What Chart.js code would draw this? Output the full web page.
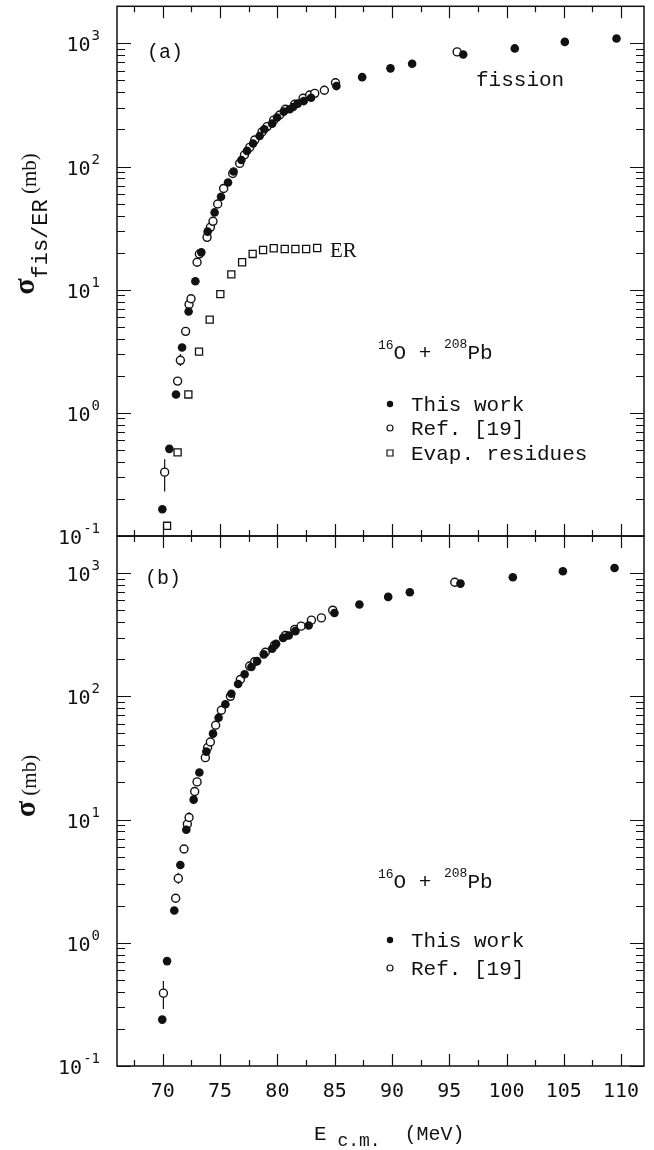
<!DOCTYPE html>
<html>
<head>
<meta charset="utf-8">
<script src="https://cdn.jsdelivr.net/npm/chart.js@4.4.0/dist/chart.umd.min.js"></script>
<style>
  html, body { margin: 0; padding: 0; background: #fff; }
  #wrap { position: relative; width: 654px; height: 1150px; }
  canvas { position: absolute; left: 0; top: 0; }
</style>
</head>
<body>
<div id="wrap">
  <canvas id="chartA" width="654" height="1150"></canvas>
  <canvas id="chartB" width="654" height="1150"></canvas>
</div>
<script>
// axis ticks
const xTicks = [70, 75, 80, 85, 90, 95, 100, 105, 110];
const yDecades = [-1, 0, 1, 2, 3];

// (a) fission, this work
const fisWorkE = [69.96, 70.57, 71.15, 71.68, 72.25, 72.84, 73.36, 73.91, 74.52, 75.08, 75.69, 76.18, 76.86, 77.35, 77.88, 78.45, 78.86, 79.54, 79.97, 80.55, 81.07, 81.37, 81.77, 82.30, 82.94, 85.15, 87.40, 89.87, 91.76, 96.22, 100.72, 105.09, 109.60];
const fisWorkS = [0.165, 0.51, 1.41, 3.39, 6.66, 11.7, 20.1, 29.6, 42.4, 56.9, 74.2, 91.1, 113, 134, 154, 177, 201, 223, 250, 279, 292, 304, 324, 340, 362, 450, 532, 627, 683, 813, 910, 1028, 1096];

// (a) fission, Ref. [19]
const fisRefE = [70.16, 71.29, 71.53, 71.99, 72.29, 72.46, 72.99, 73.19, 73.86, 74.15, 74.38, 74.79, 75.31, 76.10, 76.71, 77.12, 77.58, 78.02, 78.66, 79.10, 79.68, 80.20, 80.70, 81.51, 82.24, 82.82, 83.26, 84.10, 85.07, 95.69];
const fisRefS = [0.33, 1.81, 2.67, 4.59, 7.59, 8.44, 16.7, 19.5, 26.6, 32.1, 35.9, 49.6, 66.4, 87.7, 106, 124, 143, 164, 191, 211, 238, 262, 292, 320, 358, 381, 393, 416, 479, 853];
const fisRefLo = [0.23, null, 2.4, null, null, null, null, null, null, null, null, null, null, null, null, null, null, null, null, null, null, null, null, null, null, null, null, null, null, null];
const fisRefHi = [0.42, null, 3.0, null, null, null, null, null, null, null, null, null, null, null, null, null, null, null, null, null, null, null, null, null, null, null, null, null, null, null];

// (a) evaporation residues
const erE = [70.37, 71.29, 72.23, 73.16, 74.09, 75.02, 75.98, 76.92, 77.84, 78.75, 79.68, 80.64, 81.57, 82.51, 83.47];
const erS = [0.121, 0.478, 1.41, 3.14, 5.71, 9.2, 13.3, 16.7, 19.5, 21.0, 21.7, 21.4, 21.4, 21.4, 21.8];

// (b) total, this work
const totWorkE = [69.95, 70.37, 71.00, 71.53, 72.05, 72.69, 73.19, 73.80, 74.38, 74.87, 75.46, 75.98, 76.57, 77.14, 77.73, 78.23, 78.81, 79.54, 79.89, 80.50, 80.99, 81.57, 82.73, 84.98, 87.16, 89.67, 91.56, 95.98, 100.55, 104.92, 109.43];
const totWorkS = [0.238, 0.71, 1.83, 4.28, 8.27, 14.5, 24.1, 35.6, 49.8, 67.1, 86.2, 105, 126, 151, 173, 193, 219, 243, 267, 298, 312, 338, 376, 475, 556, 641, 699, 822, 925, 1035, 1100];

// (b) total, Ref. [19]
const totRefE = [70.05, 71.12, 71.35, 71.85, 72.14, 72.29, 72.78, 72.99, 73.71, 73.91, 74.15, 74.61, 75.11, 75.90, 76.77, 77.58, 78.02, 78.95, 79.75, 80.70, 81.51, 82.07, 82.97, 83.84, 84.83, 95.48];
const totRefS = [0.39, 2.30, 3.33, 5.77, 9.19, 10.4, 16.9, 20.2, 31.8, 38.4, 42.6, 58.2, 77.1, 100, 137, 176, 191, 228, 260, 312, 349, 371, 415, 433, 500, 842];
const totRefLo = [0.29, null, 3.0, null, null, 9.5, null, null, null, null, null, null, null, null, null, null, null, null, null, null, null, null, null, null, null, null];
const totRefHi = [0.49, null, 3.7, null, null, 11.5, null, null, null, null, null, null, null, null, null, null, null, null, null, null, null, null, null, null, null, null];

const MONO = '"Liberation Mono", monospace';
const NUM = '"DejaVu Sans Mono", monospace';
const SERIF = '"Liberation Serif", serif';
const INK = '#111';

function pts(xs, ys) {
  return xs.map((x, i) => ({ x: x, y: ys[i] }));
}

function filledSet(xs, ys) {
  return { data: pts(xs, ys), pointStyle: 'circle', pointRadius: 4.3, backgroundColor: INK, borderColor: INK, borderWidth: 0 };
}
function openSet(xs, ys, lo, hi) {
  return { data: pts(xs, ys), lo: lo, hi: hi, pointStyle: 'circle', pointRadius: 4, backgroundColor: '#fff', borderColor: INK, borderWidth: 1.4 };
}
function squareSet(xs, ys) {
  return { data: pts(xs, ys), pointStyle: 'rect', pointRadius: 5, backgroundColor: '#fff', borderColor: INK, borderWidth: 1.3 };
}

// superscript power label, right aligned
function powLabel(ctx, exp, xr, y) {
  ctx.textAlign = 'left';
  ctx.textBaseline = 'alphabetic';
  ctx.font = '14px ' + NUM;
  const sup = String(exp);
  const ws = ctx.measureText(sup).width;
  ctx.fillText(sup, xr - ws, y - 3);
  ctx.font = '20px ' + NUM;
  const wb = ctx.measureText('10').width;
  ctx.fillText('10', xr - ws - wb - 1, y + 8);
}

// text made of runs, each with own font and vertical shift
function runs(ctx, x, y, parts) {
  ctx.textAlign = 'left';
  ctx.textBaseline = 'alphabetic';
  parts.forEach(p => {
    ctx.font = p.f;
    ctx.fillText(p.t, x + (p.dx || 0), y + (p.dy || 0));
    x += ctx.measureText(p.t).width + (p.dx || 0);
  });
}

function rotTitle(ctx, cx, cy, parts) {
  ctx.save();
  ctx.translate(cx, cy);
  ctx.rotate(-Math.PI / 2);
  let w = 0;
  parts.forEach(p => { ctx.font = p.f; p.w = ctx.measureText(p.t).width; w += p.w; });
  let x = -w / 2;
  ctx.textAlign = 'left';
  ctx.textBaseline = 'alphabetic';
  parts.forEach(p => { ctx.font = p.f; ctx.fillText(p.t, x, p.dy); x += p.w; });
  ctx.restore();
}

function legendRow(ctx, kind, y, label) {
  const mx = 390;
  ctx.lineWidth = 1.2;
  ctx.strokeStyle = INK;
  ctx.fillStyle = INK;
  ctx.beginPath();
  if (kind === 'filled') {
    ctx.arc(mx, y, 3.2, 0, Math.PI * 2);
    ctx.fill();
  } else if (kind === 'open') {
    ctx.arc(mx, y, 3, 0, Math.PI * 2);
    ctx.stroke();
  } else {
    ctx.rect(mx - 3, y - 3, 6, 6);
    ctx.stroke();
  }
  ctx.font = '21px ' + MONO;
  ctx.textAlign = 'left';
  ctx.textBaseline = 'middle';
  ctx.fillText(label, 411, y + 1);
}

function reaction(ctx, y) {
  ctx.fillStyle = INK;
  runs(ctx, 378, y, [
    { t: '16', f: '13px ' + MONO, dy: -10 },
    { t: 'O', f: '21px ' + MONO },
    { t: ' + ', f: '21px ' + MONO },
    { t: '208', f: '13px ' + MONO, dy: -11 },
    { t: 'Pb', f: '21px ' + MONO }
  ]);
}

// error bars from the scales
const errBars = {
  id: 'errBars',
  beforeDatasetsDraw(chart) {
    const ctx = chart.ctx, xs = chart.scales.x, ys = chart.scales.y;
    ctx.save();
    ctx.strokeStyle = INK;
    ctx.lineWidth = 1.2;
    chart.data.datasets.forEach(ds => {
      if (!ds.lo) return;
      ds.data.forEach((p, i) => {
        if (ds.lo[i] == null) return;
        const px = xs.getPixelForValue(p.x);
        ctx.beginPath();
        ctx.moveTo(px, ys.getPixelForValue(ds.lo[i]));
        ctx.lineTo(px, ys.getPixelForValue(ds.hi[i]));
        ctx.stroke();
      });
    });
    ctx.restore();
  }
};

// box with inward ticks on all four sides
const frame = {
  id: 'frame',
  afterDraw(chart, args, o) {
    const ctx = chart.ctx, a = chart.chartArea, xs = chart.scales.x, ys = chart.scales.y;
    ctx.save();
    ctx.strokeStyle = INK;
    ctx.lineWidth = 1.5;
    ctx.strokeRect(a.left, a.top, a.right - a.left, a.bottom - a.top);

    ctx.lineWidth = 1.2;
    ctx.beginPath();
    for (let v = xTicks[0] - 2.5; v <= xs.max; v += 2.5) {
      if (v <= xs.min) continue;
      const px = Math.round(xs.getPixelForValue(v)) + 0.5;
      const len = xTicks.includes(v) ? 12 : 6;
      ctx.moveTo(px, a.top); ctx.lineTo(px, a.top + len);
      ctx.moveTo(px, a.bottom); ctx.lineTo(px, a.bottom - len);
    }
    yDecades.forEach(d => {
      for (let m = 1; m <= 9; m++) {
        const v = m * Math.pow(10, d);
        if (v < ys.min || v > ys.max) continue;
        const py = Math.round(ys.getPixelForValue(v)) + 0.5;
        const len = m === 1 ? 14 : 8;
        ctx.moveTo(a.left, py); ctx.lineTo(a.left + len, py);
        ctx.moveTo(a.right, py); ctx.lineTo(a.right - len, py);
      }
    });
    ctx.stroke();

    ctx.fillStyle = INK;
    yDecades.forEach(d => powLabel(ctx, d, 100, ys.getPixelForValue(Math.pow(10, d))));

    if (o.xLabels) {
      ctx.font = '20px ' + NUM;
      ctx.textAlign = 'center';
      ctx.textBaseline = 'middle';
      xTicks.forEach(v => ctx.fillText(String(v), xs.getPixelForValue(v), a.bottom + 26));
    }
    if (o.draw) o.draw(ctx, a);
    ctx.restore();
  }
};

function makeChart(id, datasets, pad, opts) {
  return new Chart(document.getElementById(id), {
    type: 'scatter',
    data: { datasets: datasets },
    options: {
      responsive: false,
      animation: false,
      devicePixelRatio: 1,
      layout: { padding: pad },
      scales: {
        x: { type: 'linear', min: 66, max: 112, display: false },
        y: { type: 'logarithmic', min: 0.1, max: 2000, display: false }
      },
      plugins: { legend: { display: false }, tooltip: { enabled: false }, frame: opts }
    },
    plugins: [errBars, frame]
  });
}

makeChart('chartA', [
  filledSet(fisWorkE, fisWorkS),
  openSet(fisRefE, fisRefS, fisRefLo, fisRefHi),
  squareSet(erE, erS)
], { left: 117, right: 10, top: 5, bottom: 614 }, {
  xLabels: false,
  draw(ctx, a) {
    ctx.font = '20px ' + MONO;
    ctx.textAlign = 'left';
    ctx.textBaseline = 'middle';
    ctx.fillText('(a)', 147, 53);
    ctx.font = '21px ' + MONO;
    ctx.fillText('fission', 476, 80);
    ctx.font = '21px ' + SERIF;
    ctx.fillText('ER', 330, 251);
    reaction(ctx, 359);
    legendRow(ctx, 'filled', 404, 'This work');
    legendRow(ctx, 'open', 428, 'Ref. [19]');
    legendRow(ctx, 'square', 453, 'Evap. residues');
    rotTitle(ctx, 34, 224, [
      { t: '\u03c3', f: 'bold 30px ' + SERIF, dy: 0 },
      { t: 'fis/ER', f: '22px ' + MONO, dy: 13 },
      { t: ' (mb)', f: '21px ' + SERIF, dy: 2 }
    ]);
  }
});

makeChart('chartB', [
  filledSet(totWorkE, totWorkS),
  openSet(totRefE, totRefS, totRefLo, totRefHi)
], { left: 117, right: 10, top: 536, bottom: 84 }, {
  xLabels: true,
  draw(ctx, a) {
    ctx.font = '20px ' + MONO;
    ctx.textAlign = 'left';
    ctx.textBaseline = 'middle';
    ctx.fillText('(b)', 145, 579);
    reaction(ctx, 888);
    legendRow(ctx, 'filled', 940, 'This work');
    legendRow(ctx, 'open', 968, 'Ref. [19]');
    rotTitle(ctx, 35, 786, [
      { t: '\u03c3', f: 'bold 30px ' + SERIF, dy: 0 },
      { t: ' (mb)', f: '21px ' + SERIF, dy: 1 }
    ]);
    ctx.fillStyle = INK;
    runs(ctx, 314, 1140, [
      { t: 'E', f: '21px ' + MONO },
      { t: ' c.m.', f: '18px ' + MONO, dy: 6 },
      { t: '  (MeV)', f: '20px ' + MONO }
    ]);
  }
});
</script>
</body>
</html>
